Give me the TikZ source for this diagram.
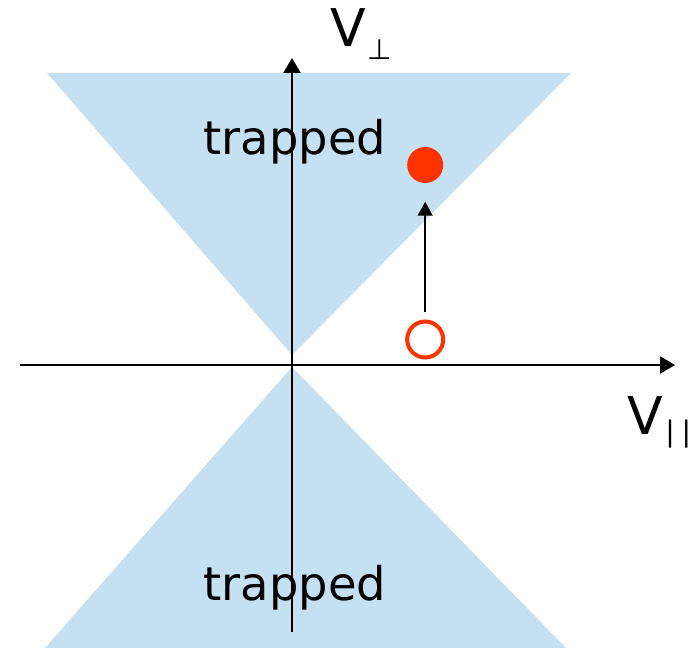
\documentclass[tikz,border=0pt]{standalone}
\usepackage{fontspec}
\setmainfont{DejaVu Sans}
\usepackage{xcolor}
\usetikzlibrary{arrows.meta}
\definecolor{conefill}{HTML}{C5E1F1}
\definecolor{hotred}{HTML}{FF3300}

\begin{document}
\begin{tikzpicture}[x=1cm,y=1cm,
  cone/.style={fill=conefill,draw=none},
  axisline/.style={line width=1.4pt,-{Triangle[length=10.5pt,width=12pt]}},
  bigtext/.style={inner sep=0pt,anchor=base,font=\fontsize{33}{40}\selectfont},
  axislabel/.style={inner sep=0pt,anchor=base,font=\fontsize{37}{44}\selectfont},
  dot/.style={circle,minimum size=0.9cm,inner sep=0pt}]
\useasboundingbox (-7.3,-7.075) rectangle (9.975,9.125);
\fill[cone] (-6.125,7.3)--(6.975,7.3)--(0,0.25)--cycle;
\fill[cone] (-6.175,-7.075)--(6.85,-7.075)--(0,-0.05)--cycle;
\coordinate (xs) at (-6.8,0);\coordinate (xe) at (9.575,0);
\coordinate (ys) at (0,-6.675);\coordinate (ye) at (0,7.675);
\draw[axisline] (xs)--(xe);
\draw[axisline] (ys)--(ye);
\node[bigtext] (tup) at (0.075,5.25) {trapped};
\node[bigtext] (tdown) at (0.075,-5.9) {trapped};
\node[axislabel] (vperp) at (1.72,7.95) {V\hspace{1pt}\raisebox{-9pt}{\fontsize{20}{22}\selectfont ⊥}};
\node[axislabel] (vpar) at (9.175,-1.75) {V\hspace{2pt}\raisebox{-4.5pt}{\fontsize{20}{22}\selectfont |\hspace{4.7pt}|}};
\node[dot,fill=hotred] (after) at (3.33,5.0) {};
\node[dot,draw=hotred,line width=2.85pt,fill=white] (before) at (3.33,0.6375) {};
\draw[line width=1.4pt,-{Triangle[length=10pt,width=10.5pt]},shorten <=0.175cm,shorten >=0.46cm] (before)--(after);
\end{tikzpicture}
\end{document}
